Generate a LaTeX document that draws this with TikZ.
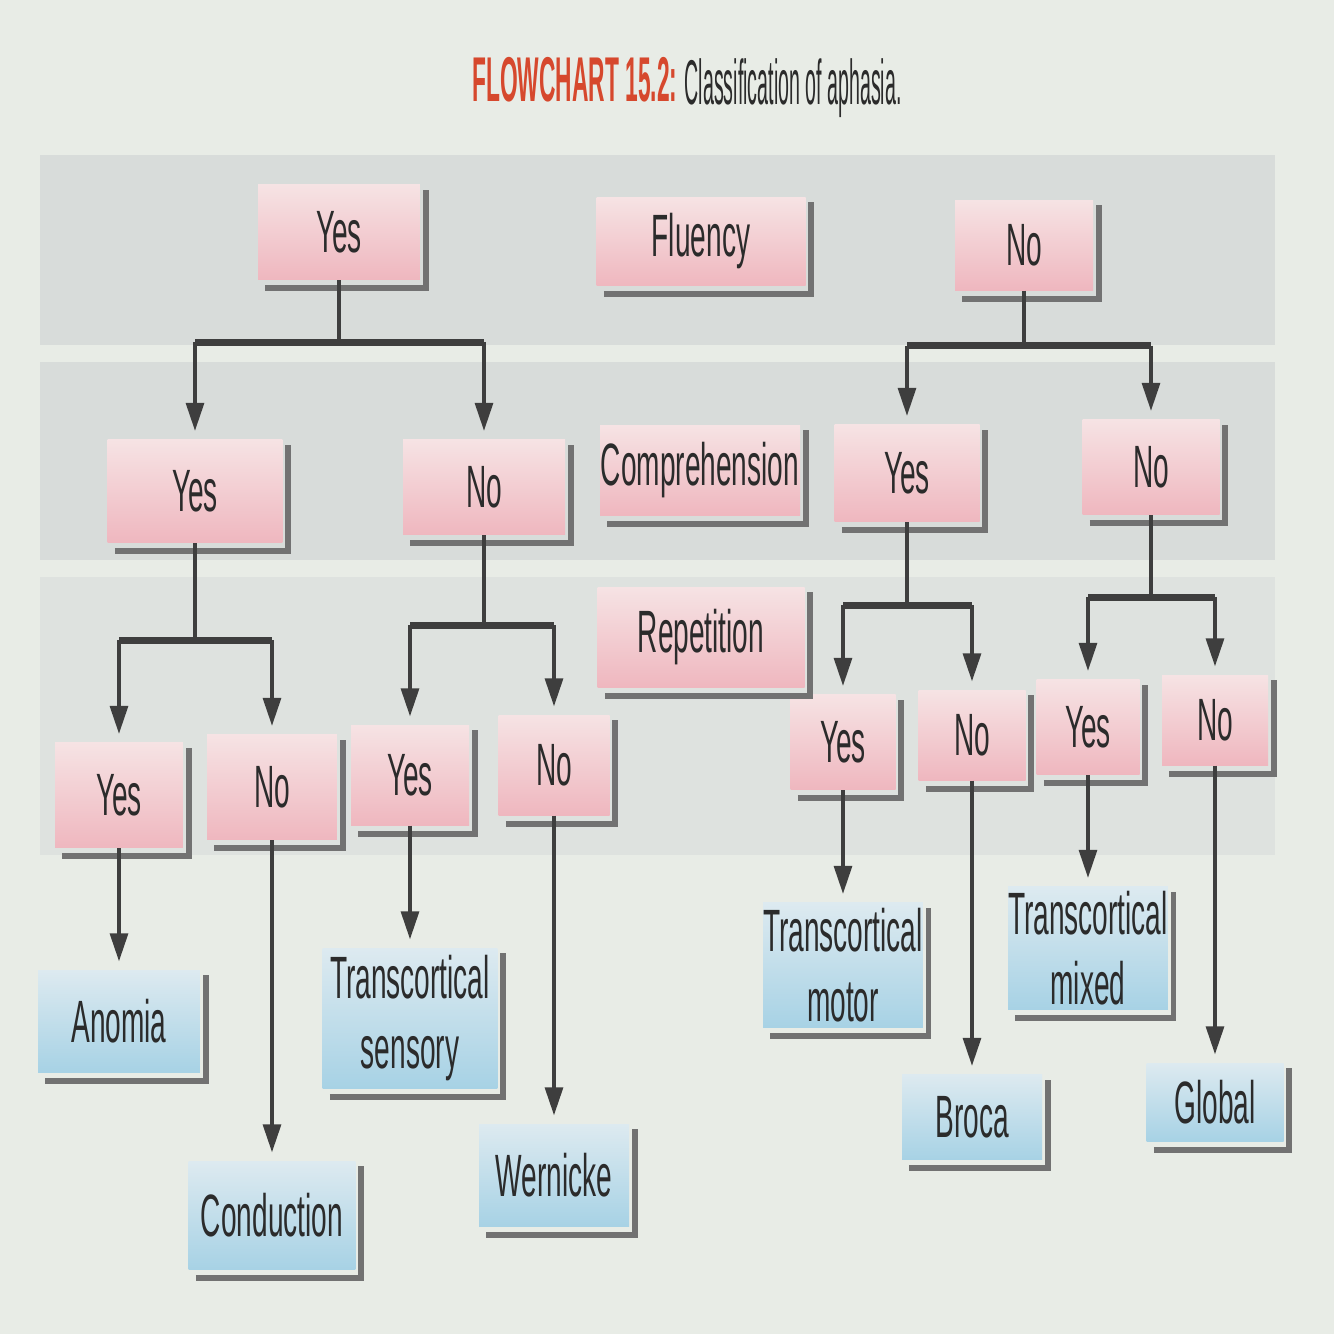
\documentclass[tikz,border=0pt]{standalone}
\usepackage{fontspec}
\setsansfont{Liberation Sans}
\usepackage{graphicx}
\usepackage{xcolor}
\usepackage{tikz}
\usetikzlibrary{arrows.meta,calc}

\definecolor{paper}{HTML}{E8ECE6}
\definecolor{band}{HTML}{D8DCDA}
\definecolor{pinktop}{HTML}{F6E3E4}
\definecolor{pinkbot}{HTML}{EFB7BF}
\definecolor{bluetop}{HTML}{DDEAF0}
\definecolor{bluebot}{HTML}{A7D2E5}
\definecolor{edgegray}{HTML}{727272}
\definecolor{ink}{HTML}{2B2B2B}
\definecolor{wire}{HTML}{3E3E3E}
\definecolor{titlered}{HTML}{D6482D}

\newcommand{\narrow}[1]{\scalebox{0.47}[1]{#1}}

\begin{document}
\begin{tikzpicture}[
        x=0.1mm, y=-0.1mm,
        box/.style 2 args={rectangle, inner sep=0pt, minimum width=#1, minimum height=#2, font=\sffamily\fontsize{17}{20}\selectfont, text=ink, align=center},
        qbox/.style 2 args={box={#1}{#2}, top color=pinktop, bottom color=pinkbot},
        abox/.style 2 args={box={#1}{#2}, top color=bluetop, bottom color=bluebot},
        edgeline/.style={draw=edgegray, line width=1.6pt},
        wireline/.style={draw=wire, line width=0.9pt},
        bar/.style={draw=wire, line width=1.9pt},
        arrow/.style={wireline, -{Triangle[length=2.8mm, width=1.8mm]}, shorten >=0.8mm}
    ]
        % Background
        \fill[paper] (0,0) rectangle (1334,1334);
        \fill[band] (40,155) rectangle (1275,345);
        \fill[band] (40,362) rectangle (1275,560);
        \fill[band!60!paper] (40,577) rectangle (1275,855);

        % Title
        \node[anchor=base east, inner sep=0pt, text=titlered, font=\sffamily\bfseries\fontsize{18}{21}\selectfont] (title) at (678,101) {\scalebox{0.36}[1]{FLOWCHART 15.2:}};
        \node[anchor=base west, inner sep=0pt, text=ink, font=\sffamily\fontsize{18}{21}\selectfont] (subtitle) at (684,104) {\scalebox{0.31}[1]{Classification of aphasia.}};

        % Row labels
        \node[qbox={20.9mm}{8.8mm}] (fluency) at (701,241) {\narrow{Fluency}};
        \node[qbox={20.0mm}{9.0mm}] (compr) at (700,470) {\narrow{Comprehension}};
        \node[qbox={20.7mm}{10.0mm}] (repet) at (701,637) {\narrow{Repetition}};

        % Fluency
        \node[qbox={16.2mm}{9.5mm}] (fyes) at (339,232) {\narrow{Yes}};
        \node[qbox={13.8mm}{9.0mm}] (fno) at (1024,245) {\narrow{No}};

        % Comprehension
        \node[qbox={17.5mm}{10.3mm}] (cyes) at (195,491) {\narrow{Yes}};
        \node[qbox={16.2mm}{9.5mm}] (cno) at (484,487) {\narrow{No}};
        \node[qbox={14.5mm}{9.7mm}] (nyes) at (907,473) {\narrow{Yes}};
        \node[qbox={13.7mm}{9.5mm}] (nno) at (1151,467) {\narrow{No}};

        % Repetition
        \node[qbox={12.8mm}{10.5mm}] (r1) at (119,795) {\narrow{Yes}};
        \node[qbox={13.0mm}{10.5mm}] (r2) at (272,787) {\narrow{No}};
        \node[qbox={11.8mm}{10.0mm}] (r3) at (410,775) {\narrow{Yes}};
        \node[qbox={11.1mm}{10.0mm}] (r4) at (554,765) {\narrow{No}};
        \node[qbox={10.5mm}{9.5mm}] (r5) at (843,742) {\narrow{Yes}};
        \node[qbox={10.7mm}{9.0mm}] (r6) at (972,735) {\narrow{No}};
        \node[qbox={10.3mm}{9.5mm}] (r7) at (1088,727) {\narrow{Yes}};
        \node[qbox={10.6mm}{9.0mm}] (r8) at (1215,720) {\narrow{No}};

        % Types of aphasia
        \node[abox={16.2mm}{10.2mm}] (anomia) at (119,1021) {\narrow{Anomia}};
        \node[abox={16.7mm}{10.8mm}] (conduct) at (272,1215) {\narrow{Conduction}};
        \node[abox={17.5mm}{14.0mm}] (tsens) at (410,1018) {\narrow{Transcortical}\\\narrow{sensory}};
        \node[abox={15.0mm}{10.2mm}] (wernicke) at (554,1175) {\narrow{Wernicke}};
        \node[abox={15.3mm}{12.5mm}] (tmotor) at (843,965) {\narrow{Transcortical}\\\narrow{motor}};
        \node[abox={14.0mm}{8.5mm}] (broca) at (972,1117) {\narrow{Broca}};
        \node[abox={15.3mm}{12.3mm}] (tmixed) at (1088,948) {\narrow{Transcortical}\\\narrow{mixed}};
        \node[abox={13.7mm}{7.8mm}] (global) at (1215,1102) {\narrow{Global}};

        % Shadows
        \foreach \n in {fluency,compr,repet,fyes,fno,cyes,cno,nyes,nno,r1,r2,r3,r4,r5,r6,r7,r8,anomia,conduct,tsens,wernicke,tmotor,broca,tmixed,global}
            \draw[edgeline] ([shift={(8,8)}]\n.south west) -| ([shift={(5,6)}]\n.north east);

        % Paths
        \draw[wireline] (fyes.south) -- ++(0,62) coordinate (j1);
        \draw[bar] (cyes |- j1) -- (cno |- j1);
        \draw[arrow] (cyes |- j1) -- (cyes.north);
        \draw[arrow] (cno |- j1) -- (cno.north);

        \draw[wireline] (fno.south) -- ++(0,55) coordinate (j2);
        \draw[bar] (nyes |- j2) -- (nno |- j2);
        \draw[arrow] (nyes |- j2) -- (nyes.north);
        \draw[arrow] (nno |- j2) -- (nno.north);

        \draw[wireline] (cyes.south) -- ++(0,97) coordinate (j3);
        \draw[bar] (r1 |- j3) -- (r2 |- j3);
        \draw[arrow] (r1 |- j3) -- (r1.north);
        \draw[arrow] (r2 |- j3) -- (r2.north);

        \draw[wireline] (cno.south) -- ++(0,90) coordinate (j4);
        \draw[bar] (r3 |- j4) -- (r4 |- j4);
        \draw[arrow] (r3 |- j4) -- (r3.north);
        \draw[arrow] (r4 |- j4) -- (r4.north);

        \draw[wireline] (nyes.south) -- ++(0,83) coordinate (j5);
        \draw[bar] (r5 |- j5) -- (r6 |- j5);
        \draw[arrow] (r5 |- j5) -- (r5.north);
        \draw[arrow] (r6 |- j5) -- (r6.north);

        \draw[wireline] (nno.south) -- ++(0,82) coordinate (j6);
        \draw[bar] (r7 |- j6) -- (r8 |- j6);
        \draw[arrow] (r7 |- j6) -- (r7.north);
        \draw[arrow] (r8 |- j6) -- (r8.north);

        \draw[arrow] (r1.south) -- (anomia.north);
        \draw[arrow] (r2.south) -- (conduct.north);
        \draw[arrow] (r3.south) -- (tsens.north);
        \draw[arrow] (r4.south) -- (wernicke.north);
        \draw[arrow] (r5.south) -- (tmotor.north);
        \draw[arrow] (r6.south) -- (broca.north);
        \draw[arrow] (r7.south) -- (tmixed.north);
        \draw[arrow] (r8.south) -- (global.north);
    \end{tikzpicture}
\end{document}
